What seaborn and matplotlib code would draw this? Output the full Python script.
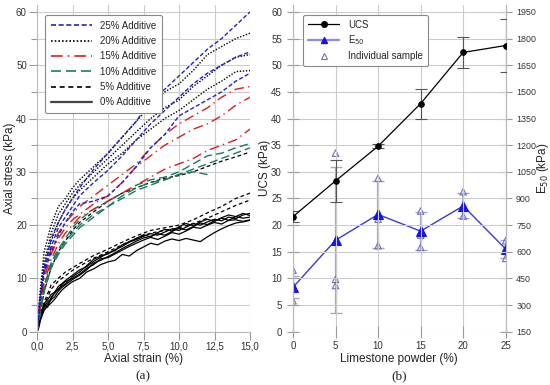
import numpy as np
import pandas as pd
import matplotlib
matplotlib.use("Agg")
import matplotlib.pyplot as plt
from matplotlib.lines import Line2D
from matplotlib.ticker import MultipleLocator, FuncFormatter
import seaborn as sns

# ---------------- data: panel (a) stress-strain curves ----------------
strain_grid = [0, 0.2, 0.5, 1, 1.5, 2, 2.5, 3, 4, 5, 6, 7, 8, 9, 10, 11, 12, 13, 14, 15]
strain_fine = [0, 0.1, 0.25, 0.5, 0.75, 1, 1.25, 1.5, 1.75, 2, 2.5, 3, 3.5, 4, 4.5, 5, 5.5, 6,
               6.5, 7, 7.5, 8, 8.5, 9, 9.5, 10, 10.5, 11, 11.5, 12, 12.5, 13, 13.5, 14, 14.5, 15]

add25_a = [0, 6, 12, 17.5, 20.5, 23, 25, 27, 30.5, 33.5, 36.5, 39.5, 43.5, 45.5, 48, 50.5, 53, 55, 57.5, 60]
add25_b = [0, 5.5, 11.5, 16, 19.5, 21.5, 23.5, 25.5, 28, 30.3, 33, 36, 39, 41.5, 44, 46.5, 48.5, 50, 51.5, 52.5]
add25_c = [0, 5, 11, 15, 18, 20.5, 22.5, 24, 24.5, 25.5, 28, 31, 34.5, 37, 40.5, 42, 43.5, 45, 47, 48.5]

add20_a = [0, 7, 15, 20, 23.5, 25, 27, 28.5, 31, 33.5, 36.5, 39.5, 42.5, 45, 46.5, 49, 52, 53.5, 55, 56]
add20_b = [0, 6, 13, 18.5, 22, 24, 26, 27.5, 30, 32.5, 35, 37.5, 40, 42, 43.5, 46, 48, 50, 51.5, 52]
add20_c = [0, 5.5, 12, 17, 20.5, 23, 25, 26.5, 29, 31.5, 33.5, 36, 38, 40, 41.5, 43.5, 45.5, 47, 48.8, 49]

add15_a = [0, 5, 11, 15.5, 18.5, 20.5, 22, 23.5, 25.5, 27.5, 29.5, 31.5, 34.5, 37, 39, 40.5, 42, 44, 45.5, 46]
add15_b = [0, 4.5, 10, 14.5, 17.5, 19.5, 21, 22, 24, 25.5, 28, 31, 33, 35, 36.5, 38, 39, 40.5, 42.5, 44]
add15_c = [0, 4, 9, 13.5, 16.5, 18.5, 20, 21.5, 23, 24.5, 26, 27.5, 29, 30.5, 31.5, 32.5, 34, 35, 36, 38]

add10_a = [0, 3.5, 8.5, 13, 15.5, 17.5, 19.5, 21, 23, 24.5, 26, 27.5, 28.5, 29, 30, 31.5, 33, 33.5, 34.5, 35.3]
add10_b = [0, 3, 8, 12.5, 15, 17, 18.5, 20, 22, 23.5, 25, 26.5, 27.5, 28.5, 29.5, 30.5, 31.5, 32.5, 33.5, 34.5]
add10_c_strain = [0, 0.2, 0.5, 1, 1.5, 2, 2.5, 3, 4, 5, 6, 7, 8, 9, 10, 11, 12, 12.2]
add10_c = [0, 3, 7.5, 12, 14.5, 16.5, 18, 19.5, 21.5, 23.5, 25.5, 27, 28, 28.5, 29.5, 30, 29.5, 30]

add5_a = [0, 3, 7.5, 12, 15, 17, 19, 20.5, 22.5, 24.5, 26, 27, 28, 28.8, 29.3, 30, 31, 32, 32.8, 33.7]
add5_b = [0, 2, 5.5, 8.8, 10, 11.2, 12, 12.8, 14.3, 15.5, 16.8, 18, 19, 19.5, 20, 21, 22.3, 23.5, 25, 26]
add5_c = [0, 2, 5, 8, 9.5, 10.5, 11.5, 12.3, 13.8, 15, 16.3, 17.5, 18.5, 19, 19.5, 20.3, 21.3, 22.5, 23.7, 24.7]

add0_a = [0, 1.5, 3.5, 5.0, 4.6, 6.5, 7.2, 8.0, 8.6, 9.0, 10.3, 11.2, 12.4, 13.6, 14.2, 14.6, 15.4, 16.0,
          16.8, 17.3, 17.9, 18.4, 18.1, 18.7, 19.3, 19.0, 19.6, 20.3, 20.0, 20.6, 21.1, 20.8, 21.5, 21.2, 21.9, 22.2]
add0_b = [0, 0.8, 2.8, 4.4, 5.2, 6.0, 6.6, 7.6, 8.3, 8.8, 9.8, 10.6, 11.6, 12.9, 13.4, 14.1, 14.8, 15.6,
          16.3, 17.0, 17.6, 17.9, 18.4, 18.1, 18.8, 19.4, 19.1, 19.7, 20.4, 20.1, 20.8, 21.3, 20.9, 21.6, 21.3, 21.5]
add0_c = [0, 1.2, 3.0, 4.8, 5.6, 6.2, 7.5, 7.9, 8.9, 9.4, 10.0, 10.8, 11.9, 12.6, 13.7, 13.9, 14.6, 15.3,
          16.0, 16.6, 17.2, 17.7, 17.3, 17.9, 18.6, 18.3, 18.9, 19.6, 19.4, 20.0, 20.5, 20.2, 20.9, 21.0, 20.7, 21.0]
add0_d = [0, 0.5, 2.2, 4.0, 4.8, 5.4, 6.1, 7.0, 7.8, 8.4, 9.4, 10.0, 11.2, 11.8, 12.6, 13.1, 13.4, 14.5,
          14.2, 15.2, 15.9, 16.6, 16.3, 17.0, 17.4, 17.1, 17.5, 17.2, 16.9, 17.8, 18.6, 19.3, 19.9, 20.4, 20.6, 20.9]
add0_e = [0, 1.0, 3.2, 5.3, 6.0, 7.0, 7.4, 8.5, 9.0, 9.6, 10.6, 11.6, 12.2, 13.2, 14.0, 14.8, 15.2, 16.3,
          16.9, 17.5, 18.2, 17.8, 18.6, 19.2, 18.9, 19.7, 20.3, 19.9, 20.6, 21.1, 20.7, 21.4, 21.9, 21.6, 22.2, 21.8]

legend_labels = ["25% Additive", "20% Additive", "15% Additive", "10% Additive", "5% Additive", "0% Additive"]

# ---------------- data: panel (b) ----------------
limestone = [0, 5, 10, 15, 20, 25]
ucs_mean = [21.6, 28.3, 34.8, 42.8, 52.4, 53.7]
ucs_std = [1.0, 4.0, 0.4, 2.8, 2.9, 4.9]
e50_mean = [400, 665, 810, 716, 858, 615]
e50_std = [61, 410, 191, 105, 70, 50]
sample_x = [0, 0, 0, 5, 5, 5, 10, 10, 10, 15, 15, 15, 20, 20, 20, 25, 25, 25]
sample_e50 = [497, 389, 324, 1155, 445, 410, 1014, 783, 634, 829, 694, 625, 938, 844, 801, 662, 620, 563]

# ---------------- style ----------------
sns.set_theme(style="whitegrid")
plt.rcParams['font.family'] = ['Liberation Sans', 'DejaVu Sans']
plt.rcParams.update({
    'grid.color': '#cccccc', 'grid.linewidth': 0.8,
    'axes.edgecolor': '#bbbbbb', 'axes.linewidth': 0.8,
    'xtick.color': '#999999', 'ytick.color': '#999999',
    'xtick.labelcolor': '#333333', 'ytick.labelcolor': '#333333',
    'xtick.labelsize': 7, 'ytick.labelsize': 7,
    'axes.labelsize': 8.5, 'axes.labelcolor': '#222222',
    'legend.fontsize': 7,
})

fig = plt.figure(figsize=(5.5, 3.85), dpi=100)
ax1 = fig.add_axes([37 / 550, 1 - 331.7 / 385, 213 / 550, 326.7 / 385])
ax2 = fig.add_axes([293 / 550, 1 - 331.7 / 385, 212.7 / 550, 326.7 / 385])

BLUE = '#2222c0'
RED = '#d42020'
GREEN = '#1d7a5c'
styles = {
    '25': dict(color=BLUE, ls=(0, (3, 1.6)), lw=1.0),
    '20': dict(color='black', ls=(0, (1, 1.2)), lw=1.0),
    '15': dict(color=RED, ls=(0, (7, 3, 1, 3)), lw=1.0),
    '10': dict(color=GREEN, ls=(0, (6, 3)), lw=1.0),
    '5': dict(color='black', ls=(0, (3, 2.2)), lw=0.9),
    '0': dict(color='black', ls='-', lw=0.9),
}

curves = [
    ('0', strain_fine, add0_a), ('0', strain_fine, add0_b), ('0', strain_fine, add0_c),
    ('0', strain_fine, add0_d), ('0', strain_fine, add0_e),
    ('5', strain_grid, add5_a), ('5', strain_grid, add5_b), ('5', strain_grid, add5_c),
    ('10', strain_grid, add10_a), ('10', strain_grid, add10_b), ('10', add10_c_strain, add10_c),
    ('15', strain_grid, add15_a), ('15', strain_grid, add15_b), ('15', strain_grid, add15_c),
    ('20', strain_grid, add20_a), ('20', strain_grid, add20_b), ('20', strain_grid, add20_c),
    ('25', strain_grid, add25_a), ('25', strain_grid, add25_b), ('25', strain_grid, add25_c),
]
for key, xs, ys in curves:
    df = pd.DataFrame({'strain': xs, 'stress': ys})
    st = styles[key]
    sns.lineplot(data=df, x='strain', y='stress', ax=ax1, sort=False, estimator=None,
                 color=st['color'], linestyle=st['ls'], linewidth=st['lw'], legend=False)

ax1.set_xlim(0, 15)
ax1.set_ylim(0, 61.3)
ax1.xaxis.set_major_locator(MultipleLocator(2.5))
ax1.yaxis.set_major_locator(MultipleLocator(10))
ax1.yaxis.set_minor_locator(MultipleLocator(5))
ax1.xaxis.set_major_formatter(FuncFormatter(lambda v, p: f"{v:.1f}".replace('.', ',')))
ax1.grid(True, which='both')
ax1.tick_params(which='both', direction='out', length=5.5, width=0.8, pad=1.8,
                bottom=True, left=True)
ax1.tick_params(which='minor', length=4)
ax1.spines['top'].set_visible(False)
ax1.spines['right'].set_visible(False)
ax1.set_xlabel("Axial strain (%)")
ax1.set_ylabel("Axial stress (kPa)")
ax1.xaxis.set_label_coords(0.5, -0.066)
ax1.yaxis.set_label_coords(-0.099, 0.5)

handles = [Line2D([], [], color=styles[k]['color'], ls=styles[k]['ls'], lw=1.2)
           for k in ['25', '20', '15', '10', '5']]
handles.append(Line2D([], [], color='#444444', lw=1.6))
leg1 = ax1.legend(handles, legend_labels, loc='upper left', bbox_to_anchor=(0.015, 0.985),
                  frameon=True, fancybox=True, edgecolor='#888888', framealpha=1,
                  handlelength=4.2, borderpad=0.6, labelspacing=0.55, handletextpad=0.8)
leg1.get_frame().set_linewidth(0.8)

# ---------------- panel (b) ----------------
ax3 = ax2.twinx()
scale = 30.0
ax2.set_xlim(0, 25)
ax2.set_ylim(0, 61.3)
ax3.set_ylim(150, 150 + 61.3 * scale)
ax2.xaxis.set_major_locator(MultipleLocator(5))
ax2.yaxis.set_major_locator(MultipleLocator(5))
ax3.yaxis.set_major_locator(MultipleLocator(150))
ax3.grid(False)
ax2.grid(True)

# E50 error bars and individual samples (on twin axis)
ax3.errorbar(limestone, e50_mean, yerr=e50_std, fmt='none', ecolor='#9a9ad6',
             elinewidth=1.6, capsize=4, capthick=1.0, alpha=0.9, zorder=2)
sns.scatterplot(x=sample_x, y=sample_e50, ax=ax3, marker='^', s=22,
                facecolor='none', edgecolor='#7070b8', linewidth=0.8, zorder=3, legend=False)
sns.lineplot(x=limestone, y=e50_mean, ax=ax3, color='#3a3ad0', lw=1.0, marker='^',
             markersize=7, markerfacecolor='#1414e6', markeredgecolor='#1414e6',
             legend=False, zorder=4)

# UCS
ax2.errorbar(limestone, ucs_mean, yerr=ucs_std, fmt='none', ecolor='#555555',
             elinewidth=0.8, capsize=4, capthick=0.8, zorder=3)
sns.lineplot(x=limestone, y=ucs_mean, ax=ax2, color='black', lw=0.9, marker='o',
             markersize=4, markerfacecolor='black', markeredgecolor='black', legend=False, zorder=4)

for a in (ax2, ax3):
    a.spines['top'].set_visible(False)
    a.spines['bottom'].set_visible(False)
ax2.tick_params(axis='y', which='both', direction='inout', length=8, width=0.8, pad=4, left=True)
ax2.tick_params(axis='x', which='both', direction='inout', length=8, width=0.8, pad=2.5, bottom=True)
ax3.tick_params(which='both', direction='inout', length=8, width=0.8, pad=3.5, right=True,
                labelsize=6.4)
ax2.set_xlabel("Limestone powder (%)")
ax2.set_ylabel("UCS (kPa)")
ax3.set_ylabel("E$_{50}$ (kPa)", fontsize=8.5)
ax2.xaxis.set_label_coords(0.5, -0.066)
ax2.yaxis.set_label_coords(-0.103, 0.5)
ax3.yaxis.set_label_coords(1.137, 0.5)
ax2.set_zorder(ax3.get_zorder() + 1)
ax2.patch.set_visible(False)

h_ucs = Line2D([], [], color='black', lw=0.9, marker='o', markersize=4)
h_e50 = Line2D([], [], color='#8a8ae0', lw=1.6, marker='^', markersize=4,
               markerfacecolor='#1414e6', markeredgecolor='#1414e6')
h_ind = Line2D([], [], ls='none', marker='^', markersize=4.5, markerfacecolor='none',
               markeredgecolor='#7070b8', markeredgewidth=0.8)
leg2 = ax2.legend([h_ucs, h_e50, h_ind], ["UCS", "E$_{50}$", "Individual sample"],
                  loc='upper left', bbox_to_anchor=(0.025, 0.985), frameon=True, fancybox=True,
                  edgecolor='#888888', framealpha=1, handlelength=3.2, borderpad=0.5,
                  labelspacing=0.4, handletextpad=0.9)
leg2.get_frame().set_linewidth(0.8)

fig.text(143 / 550, 1 - 376 / 385, "(a)", ha='center', va='center', fontsize=9.5,
         family=['Liberation Serif', 'DejaVu Serif'], color='#222222')
fig.text(399 / 550, 1 - 376 / 385, "(b)", ha='center', va='center', fontsize=9.5,
         family=['Liberation Serif', 'DejaVu Serif'], color='#222222')

fig.savefig("out.png", dpi=100)
